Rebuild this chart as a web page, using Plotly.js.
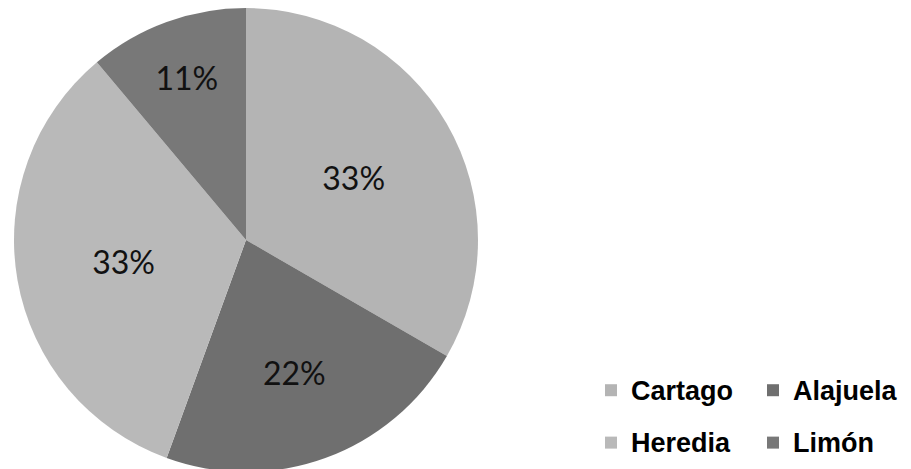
<!DOCTYPE html>
<html>
<head>
<meta charset="utf-8">
<script src="https://cdn.plot.ly/plotly-3.0.1.min.js"></script>
<style>
html,body{margin:0;padding:0;background:#fff;overflow:hidden;}
#chart{width:911px;height:475px;}
</style>
</head>
<body>
<div id="chart"></div>
<script>
const provincias = ["Cartago", "Alajuela", "Heredia", "Limón"];
const cantidades = [3, 2, 3, 1];
const colores = ["#b4b4b4", "#6f6f6f", "#b9b9b9", "#787878"];

const legendLabels = provincias.map(p => '<span style="font-size:27px;baseline-shift:5px">' + p + '</span>');

const trace = {
  type: "pie",
  labels: legendLabels,
  values: cantidades,
  sort: false,
  direction: "clockwise",
  rotation: 0,
  marker: { colors: colores, line: { width: 0 } },
  textinfo: "percent",
  texttemplate: "%{percent:.0%}",
  textposition: "inside",
  insidetextorientation: "horizontal",
  insidetextfont: { family: "Lato, 'Open Sans', sans-serif", size: 32, color: "#111111" },
  hoverinfo: "none",
  domain: { x: [0, 1], y: [0, 1] }
};

const layout = {
  width: 911,
  height: 475,
  margin: { l: 14, r: 433, t: 8, b: 3, autoexpand: false },
  paper_bgcolor: "#ffffff",
  plot_bgcolor: "#ffffff",
  showlegend: true,
  legend: {
    orientation: "h",
    x: 1.2435,
    xanchor: "left",
    y: 0.2435,
    yanchor: "top",
    entrywidth: 117,
    traceorder: "normal",
    font: { family: "'Liberation Sans', Arial, sans-serif", size: 38, color: "#000000", weight: "bold" },
    bgcolor: "rgba(0,0,0,0)",
    borderwidth: 0
  }
};

Plotly.newPlot("chart", [trace], layout, { displayModeBar: false, staticPlot: true });
</script>
</body>
</html>
